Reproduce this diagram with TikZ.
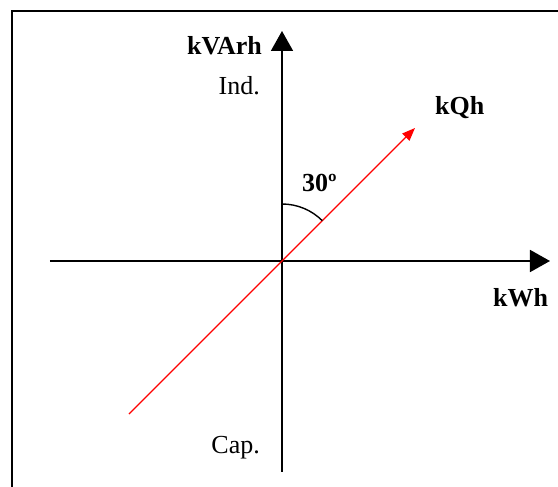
\documentclass[tikz,border=0pt]{standalone}
\usepackage{fontspec}
\setmainfont{Liberation Serif}
\usepackage{tikz}
\usetikzlibrary{arrows.meta}
\definecolor{vecred}{HTML}{FF0000}
\tikzset{
  axisarrow/.style={-{Triangle[length=20pt,width=22pt]}, line width=1.8pt, color=black},
  vecarrow/.style={-{Triangle[length=13pt,width=10pt]}, line width=1.4pt, color=vecred},
  framestroke/.style={line width=2pt, color=black},
  axislabel/.style={inner sep=0pt, font=\fontsize{26}{30}\selectfont\bfseries},
  sidelabel/.style={inner sep=0pt, font=\fontsize{26}{30}\selectfont},
}

\begin{document}
\begin{tikzpicture}[x=1pt, y=1pt]
  \useasboundingbox (-282,-226) rectangle (276,261);
  % open frame, left and top only
  \draw[framestroke] (-269.5,-226) -- (-269.5,249.5) -- (276,249.5);
  \coordinate (origin) at (0,0);
  \coordinate (ybot) at (0,-211);
  \coordinate (ytop) at (0,230);
  \coordinate (xleft) at (-232,0);
  \coordinate (xright) at (268,0);
  \coordinate (qtail) at (-153,-153);
  \coordinate (qhead) at (133,133);
  \draw[axisarrow] (ybot) -- (ytop);
  \draw[axisarrow] (xleft) -- (xright);
  \draw[vecarrow] (qtail) -- (qhead);
  % angle between kVArh axis and kQh
  \draw[line width=1.4pt] (0,57) arc[start angle=90, end angle=45, radius=57];
  \node[axislabel, anchor=base east] (kvarh) at (-20,206) {kVArh};
  \node[sidelabel, anchor=base east] (ind) at (-22,166) {Ind.};
  \node[sidelabel, anchor=base east] (cap) at (-22,-193) {Cap.};
  \node[axislabel, anchor=base west] (kqh) at (153,146) {kQh};
  \node[axislabel, anchor=base west] (kwh) at (211,-46) {kWh};
  \node[axislabel, anchor=base west] (angle) at (20,69) {30º};
\end{tikzpicture}
\end{document}
